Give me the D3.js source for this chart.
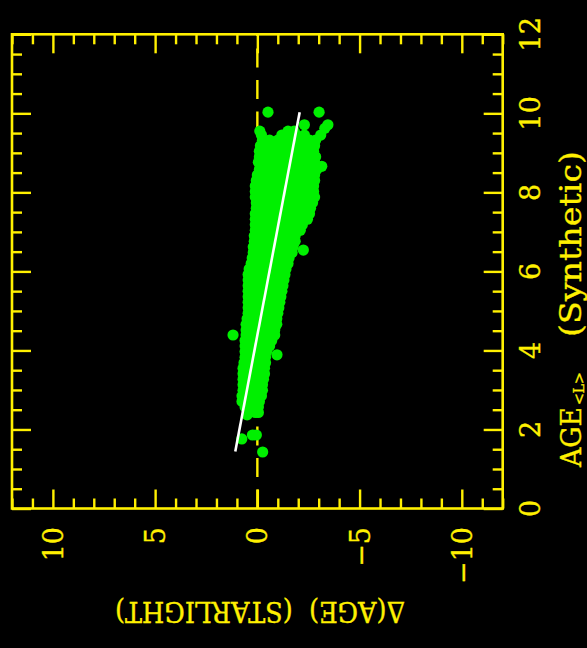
<!DOCTYPE html>
<html>
<head>
<meta charset="utf-8">
<script src="https://cdn.jsdelivr.net/npm/d3@7"></script>
<style>
  html, body { margin: 0; padding: 0; background: #000; }
  svg { display: block; }
</style>
</head>
<body>
<svg id="chart" width="587" height="648"></svg>
<script>
// ---- axis settings ----
const ageDomain = [0, 12];            // AGE<L> (Synthetic), drawn vertically
const deltaDomain = [12, -12];        // Δ(AGE) (STARLIGHT), increasing to the left
const ageTickValues = [0, 2, 4, 6, 8, 10, 12];
const ageTickLabels = ["0", "2", "4", "6", "8", "10", "12"];
const deltaTickValues = [10, 5, 0, -5, -10];
const deltaTickLabels = ["10", "5", "0", "\u22125", "\u221210"];

// ---- least-squares line: [age, Δ] end points ----
const fitLine = [[1.44, 1.08], [10.03, -2.07]];

// ---- measurements: rows of [age, [Δ values...]] ----
const cloudRows = [
  [10.03, [-0.52, -3.02]],
  [9.71, [-2.30, -3.45]],
  [9.62, [-3.30]],
  [9.55, [-0.12, -1.50, -1.80]],
  [9.45, [-0.20, -1.20, -1.55, -1.90, -2.30, -3.10]],
  [9.32, [-0.25, -0.60, -1.00, -1.40, -1.80, -2.20, -2.55, -2.85]],
  [9.18, [-0.15, -0.55, -0.95, -1.35, -1.75, -2.15, -2.50, -2.80]],
  [9.04, [-0.10, -0.45, -0.85, -1.25, -1.65, -2.05, -2.45, -2.75]],
  [8.90, [-0.10, -0.50, -0.90, -1.30, -1.70, -2.10, -2.50, -2.85]],
  [8.76, [-0.05, -0.45, -0.85, -1.25, -1.65, -2.05, -2.45, -2.80]],
  [8.66, [-3.15]],
  [8.58, [-0.10, -0.50, -0.90, -1.30, -1.70, -2.10, -2.50, -2.90]],
  [8.44, [0.00, -0.40, -0.80, -1.20, -1.60, -2.00, -2.40, -2.80]],
  [8.30, [0.05, -0.35, -0.75, -1.15, -1.55, -1.95, -2.35, -2.80]],
  [8.16, [0.10, -0.30, -0.70, -1.10, -1.50, -1.90, -2.30, -2.75]],
  [8.02, [0.10, -0.35, -0.75, -1.15, -1.55, -1.95, -2.35, -2.75]],
  [7.88, [0.10, -0.35, -0.75, -1.15, -1.55, -1.95, -2.35, -2.80]],
  [7.74, [0.05, -0.35, -0.75, -1.15, -1.55, -1.95, -2.35, -2.70]],
  [7.60, [0.05, -0.35, -0.75, -1.15, -1.55, -1.95, -2.30, -2.60]],
  [7.46, [0.10, -0.30, -0.70, -1.10, -1.50, -1.90, -2.30, -2.55]],
  [7.32, [0.10, -0.30, -0.70, -1.10, -1.50, -1.90, -2.30, -2.45]],
  [7.18, [0.10, -0.30, -0.70, -1.10, -1.50, -1.90, -2.20]],
  [7.04, [0.10, -0.30, -0.70, -1.10, -1.50, -1.85, -2.10]],
  [6.90, [0.15, -0.25, -0.65, -1.05, -1.45, -1.85]],
  [6.76, [0.15, -0.25, -0.65, -1.05, -1.45, -1.85]],
  [6.62, [0.20, -0.20, -0.60, -1.00, -1.40, -1.75]],
  [6.54, [-2.25]],
  [6.48, [0.20, -0.20, -0.60, -1.00, -1.40, -1.70]],
  [6.34, [0.25, -0.15, -0.55, -0.95, -1.35, -1.55]],
  [6.20, [0.30, -0.10, -0.50, -0.90, -1.30, -1.50]],
  [6.06, [0.40, 0.00, -0.40, -0.80, -1.20, -1.40]],
  [5.92, [0.45, 0.05, -0.35, -0.75, -1.15, -1.35]],
  [5.78, [0.45, 0.05, -0.35, -0.75, -1.10, -1.30]],
  [5.64, [0.45, 0.05, -0.35, -0.75, -1.10, -1.25]],
  [5.50, [0.45, 0.05, -0.35, -0.75, -1.05, -1.20]],
  [5.36, [0.45, 0.05, -0.35, -0.75, -1.00, -1.15]],
  [5.22, [0.45, 0.05, -0.35, -0.70, -1.10]],
  [5.08, [0.45, 0.05, -0.35, -0.70, -1.05]],
  [4.94, [0.45, 0.05, -0.35, -0.70, -1.00]],
  [4.80, [0.50, 0.10, -0.30, -0.65, -0.95]],
  [4.66, [0.55, 0.10, -0.30, -0.65, -0.95]],
  [4.52, [0.55, 0.15, -0.25, -0.60, -0.85]],
  [4.39, [1.19, 0.55, 0.15, -0.25, -0.60, -0.85]],
  [4.25, [0.60, 0.20, -0.20, -0.55, -0.70]],
  [4.11, [0.60, 0.20, -0.20, -0.50, -0.60]],
  [3.97, [0.60, 0.20, -0.20, -0.45]],
  [3.89, [-0.96]],
  [3.83, [0.60, 0.20, -0.20, -0.40]],
  [3.69, [0.65, 0.25, -0.15, -0.40]],
  [3.55, [0.70, 0.30, -0.10, -0.35]],
  [3.41, [0.70, 0.30, -0.10, -0.35]],
  [3.27, [0.70, 0.30, -0.10, -0.30]],
  [3.13, [0.70, 0.30, -0.10, -0.25]],
  [2.99, [0.70, 0.30, -0.10, -0.25]],
  [2.85, [0.75, 0.35, 0.00, -0.20]],
  [2.71, [0.75, 0.35, 0.00, -0.10]],
  [2.57, [0.60, 0.25, -0.05]],
  [2.43, [0.45, 0.10, -0.05]],
  [2.37, [0.50]],
  [1.86, [0.24, 0.05]],
  [1.76, [0.76]],
  [1.43, [-0.26]]
];

// ---- layout ----
const W = 587, H = 648;
const frame = { left: 12, right: 502.7, top: 34.3, bottom: 508.5 };
const yellow = "#fff000";
const green = "#00f000";
const font = "'DejaVu Serif', 'Liberation Serif', serif";

const svg = d3.select("#chart");
svg.append("rect").attr("width", W).attr("height", H).attr("fill", "#000");

const x = d3.scaleLinear().domain(deltaDomain).range([frame.left, frame.right]);
const y = d3.scaleLinear().domain(ageDomain).range([frame.bottom, frame.top]);

const deltaMinor = d3.range(-12, 13, 1).filter(v => !deltaTickValues.includes(v));
const ageMinor = d3.range(0, 12.01, 0.5).filter(v => !ageTickValues.includes(v));

// ---- zero-offset reference line (dashed) ----
svg.append("path")
  .attr("d", d3.line()([[x(0), y(0)], [x(0), y(12)]]))
  .attr("stroke", yellow).attr("stroke-width", 2.4)
  .attr("stroke-dasharray", "19 12.5")
  .attr("fill", "none");

// ---- scatter points ----
const points = [];
cloudRows.forEach(([age, deltas]) => deltas.forEach(d => points.push([age, d])));
svg.append("g").selectAll("circle").data(points).join("circle")
  .attr("cx", d => x(d[1]))
  .attr("cy", d => y(d[0]))
  .attr("r", 5.6)
  .attr("fill", green);

// ---- fitted line ----
svg.append("path")
  .attr("d", d3.line().x(d => x(d[1])).y(d => y(d[0]))(fitLine))
  .attr("stroke", "#ffffff").attr("stroke-width", 2.6)
  .attr("fill", "none");

// ---- frame ticks via d3 axes (all pointing inward) ----
function tickAxis(axisFn, scale, values, size, transform) {
  const g = svg.append("g").attr("transform", transform)
    .call(axisFn(scale).tickValues(values).tickSize(size).tickFormat(""));
  g.select(".domain").remove();
  g.selectAll(".tick line").attr("stroke", yellow).attr("stroke-width", 2.4);
}
tickAxis(d3.axisTop, x, deltaTickValues, 19, `translate(0,${frame.bottom})`);
tickAxis(d3.axisTop, x, deltaMinor, 10, `translate(0,${frame.bottom})`);
tickAxis(d3.axisBottom, x, deltaTickValues, 19, `translate(0,${frame.top})`);
tickAxis(d3.axisBottom, x, deltaMinor, 10, `translate(0,${frame.top})`);
tickAxis(d3.axisRight, y, ageTickValues, 19, `translate(${frame.left},0)`);
tickAxis(d3.axisRight, y, ageMinor, 10, `translate(${frame.left},0)`);
tickAxis(d3.axisLeft, y, ageTickValues, 19, `translate(${frame.right},0)`);
tickAxis(d3.axisLeft, y, ageMinor, 10, `translate(${frame.right},0)`);

svg.append("rect")
  .attr("x", frame.left).attr("y", frame.top)
  .attr("width", frame.right - frame.left).attr("height", frame.bottom - frame.top)
  .attr("fill", "none").attr("stroke", yellow).attr("stroke-width", 2.6);

// shared look for all yellow text
function label(sel, size) {
  return sel.attr("font-family", font).attr("font-size", size)
    .attr("fill", yellow).attr("stroke", yellow).attr("stroke-width", 0.35);
}

// ---- tick labels ----
label(svg.append("g").selectAll("text").data(deltaTickValues).join("text"), 27)
  .attr("transform", (v) => `translate(${x(v) + 10},527) rotate(-90)`)
  .attr("text-anchor", "end")
  .text((v, i) => deltaTickLabels[i]);

label(svg.append("g").selectAll("text").data(ageTickValues).join("text"), 27)
  .attr("transform", (v) => `translate(540,${y(v)}) rotate(-90)`)
  .attr("text-anchor", "middle")
  .text((v, i) => ageTickLabels[i]);

// ---- axis titles ----
label(svg.append("text"), 27)
  .attr("transform", "translate(260,602) rotate(180)")
  .attr("text-anchor", "middle")
  .attr("xml:space", "preserve")
  .attr("textLength", 290).attr("lengthAdjust", "spacingAndGlyphs")
  .text("\u0394(AGE)  (STARLIGHT)");

// AGE title, read bottom-to-top along the right edge
const ageTitle = label(svg.append("g").attr("transform", "translate(581,467) rotate(-90)")
  .selectAll("text").data([0]).join("text"), 27);
ageTitle.append("tspan").attr("x", 0).attr("textLength", 60)
  .attr("lengthAdjust", "spacingAndGlyphs").text("AGE");
ageTitle.append("tspan").attr("x", 62).attr("dy", 3).attr("font-size", 14)
  .attr("stroke-width", 0.3).text("<L>");
ageTitle.append("tspan").attr("x", 130).attr("dy", -3).attr("font-size", 29)
  .attr("textLength", 186).attr("lengthAdjust", "spacingAndGlyphs").text("(Synthetic)");
</script>
</body>
</html>
